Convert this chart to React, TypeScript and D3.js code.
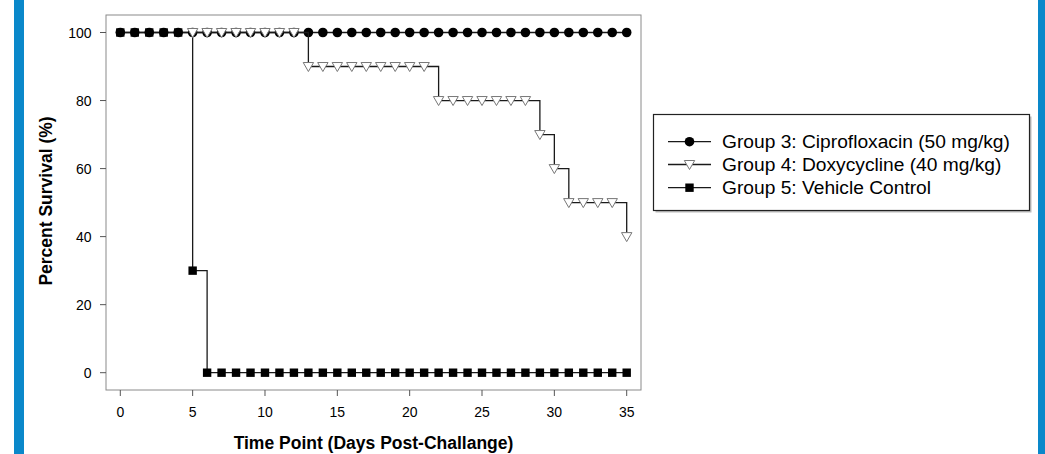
import React from "react";
import * as d3 from "d3";

const days: number[] = d3.range(0, 36);
const ciproDays: number[] = days;
const ciproValues: number[] = days.map(() => 100);

const doxyDays: number[] = [5, 6, 7, 8, 9, 10, 11, 12, 13, 14, 15, 16, 17, 18, 19, 20, 21, 22, 23, 24, 25, 26, 27, 28, 29, 30, 31, 32, 33, 34, 35];
const doxyValues: number[] = [100, 100, 100, 100, 100, 100, 100, 100, 90, 90, 90, 90, 90, 90, 90, 90, 90, 80, 80, 80, 80, 80, 80, 80, 70, 60, 50, 50, 50, 50, 40];

const vehicleDays: number[] = days;
const vehicleValues: number[] = [100, 100, 100, 100, 100, 30, 0, 0, 0, 0, 0, 0, 0, 0, 0, 0, 0, 0, 0, 0, 0, 0, 0, 0, 0, 0, 0, 0, 0, 0, 0, 0, 0, 0, 0, 0];

const xTicks: number[] = [0, 5, 10, 15, 20, 25, 30, 35];
const yTicks: number[] = [0, 20, 40, 60, 80, 100];
const legendLabels: string[] = [
  "Group 3: Ciprofloxacin (50 mg/kg)",
  "Group 4: Doxycycline (40 mg/kg)",
  "Group 5: Vehicle Control",
];

const FONT = "'Liberation Sans', Arial, Helvetica, sans-serif";
const BLUE = "#0A88CA";

type Pt = [number, number];

export default function App() {
  const W = 1045, H = 454;
  const frame = { x: 106, y: 15, w: 535, h: 375 };
  const x = d3.scaleLinear().domain([0, 35]).range([120.3, 626.7]);
  const y = d3.scaleLinear().domain([0, 100]).range([372.7, 32.5]);
  const line = d3.line<Pt>().x((d) => x(d[0])).y((d) => y(d[1])).curve(d3.curveStepAfter);

  const cipro: Pt[] = ciproDays.map((d, i) => [d, ciproValues[i]]);
  const doxy: Pt[] = doxyDays.map((d, i) => [d, doxyValues[i]]);
  const vehicle: Pt[] = vehicleDays.map((d, i) => [d, vehicleValues[i]]);

  const lineColor = "#1a1a1a";
  const circle = (cx: number, cy: number, key: string | number) => (
    <circle key={key} cx={cx} cy={cy} r={4.8} fill="#000" />
  );
  const square = (cx: number, cy: number, key: string | number) => (
    <rect key={key} x={cx - 4.2} y={cy - 4.2} width={8.4} height={8.4} fill="#000" />
  );
  const tri = (cx: number, cy: number, key: string | number) => (
    <path
      key={key}
      d={`M${cx - 5.2},${cy - 4} L${cx + 5.2},${cy - 4} L${cx},${cy + 5} Z`}
      fill="#fff"
      stroke="#777"
      strokeWidth={1}
    />
  );

  const legendRows = [141.7, 164.5, 187.7];
  const markerFns = [circle, tri, square];

  return (
    <svg
      width={W}
      height={H}
      style={{ position: "absolute", left: 0, top: 0 }}
      fontFamily={FONT}
    >
      <rect x={0} y={0} width={W} height={H} fill="#fff" />
      <rect x={14} y={0} width={10} height={H} fill={BLUE} />
      <rect x={1038} y={0} width={12} height={H} fill={BLUE} />

      {/* frame */}
      <rect x={frame.x} y={frame.y} width={frame.w} height={frame.h} fill="none" stroke="#8a8a8a" strokeWidth={1} />

      {/* y axis ticks */}
      {yTicks.map((t) => (
        <g key={"y" + t}>
          <line x1={frame.x - 6} x2={frame.x} y1={y(t)} y2={y(t)} stroke="#555" strokeWidth={1} />
          <text x={91.5} y={y(t)} textAnchor="end" dominantBaseline="central" fontSize={14} fill="#000">
            {t}
          </text>
        </g>
      ))}
      {/* x axis ticks */}
      {xTicks.map((t) => (
        <g key={"x" + t}>
          <line x1={x(t)} x2={x(t)} y1={frame.y + frame.h} y2={frame.y + frame.h + 6} stroke="#555" strokeWidth={1} />
          <text x={x(t)} y={416.5} textAnchor="middle" fontSize={14} fill="#000">
            {t}
          </text>
        </g>
      ))}

      {/* axis titles */}
      <text
        transform={`translate(52,201) rotate(-90)`}
        textAnchor="middle"
        fontSize={17.5}
        fontWeight="bold"
        fill="#000"
      >
        Percent Survival (%)
      </text>
      <text x={373.5} y={449} textAnchor="middle" fontSize={17.5} fontWeight="bold" fill="#000">
        Time Point (Days Post-Challange)
      </text>

      {/* vehicle */}
      <path d={line(vehicle) || ""} fill="none" stroke={lineColor} strokeWidth={1.3} />
      {vehicle.map((d, i) => square(x(d[0]), y(d[1]), "v" + i))}
      {/* cipro */}
      <path d={line(cipro) || ""} fill="none" stroke={lineColor} strokeWidth={1.3} />
      {cipro.map((d, i) => circle(x(d[0]), y(d[1]), "c" + i))}
      {/* doxy */}
      <path d={line(doxy) || ""} fill="none" stroke={lineColor} strokeWidth={1.3} />
      {doxy.map((d, i) => tri(x(d[0]), y(d[1]), "d" + i))}

      {/* legend */}
      <rect x={655.5} y={116.5} width={376} height={96} fill="#bbb" />
      <rect x={653.5} y={114.5} width={376} height={96} fill="#fff" stroke="#222" strokeWidth={1.2} />
      {legendLabels.map((lab, i) => (
        <g key={"l" + i}>
          <line x1={668} x2={711} y1={legendRows[i]} y2={legendRows[i]} stroke={lineColor} strokeWidth={1.3} />
          {markerFns[i](689.5, legendRows[i], "lm" + i)}
          <text x={722} y={legendRows[i]} dominantBaseline="central" fontSize={19.2} fill="#000">
            {lab}
          </text>
        </g>
      ))}
    </svg>
  );
}
